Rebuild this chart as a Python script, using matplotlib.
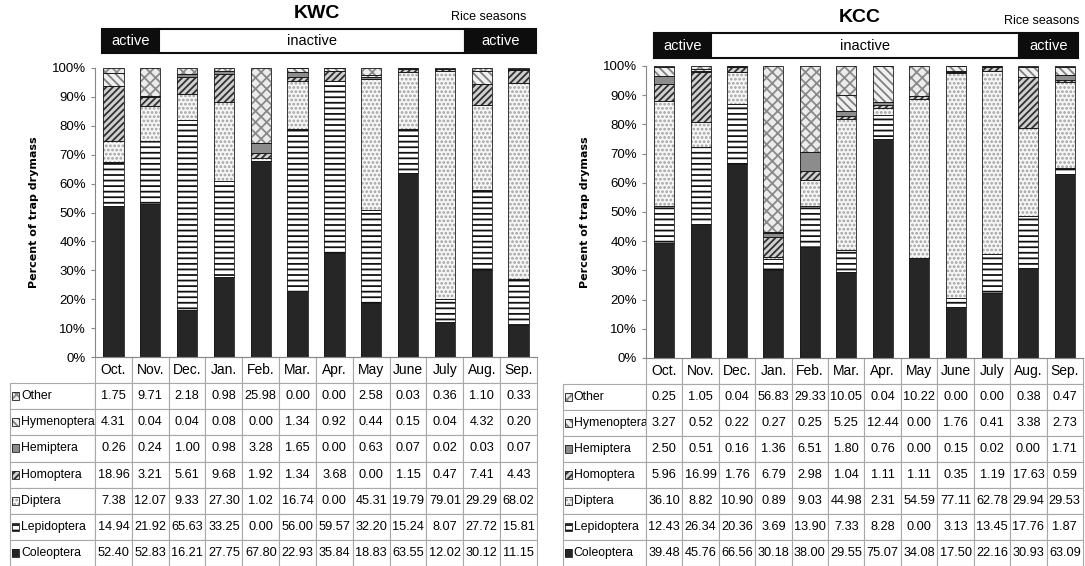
import matplotlib
matplotlib.use('Agg')
import matplotlib.pyplot as plt
from matplotlib.patches import Rectangle
import numpy as np

plt.rcParams['font.family'] = ['DejaVu Sans Condensed', 'Liberation Sans', 'DejaVu Sans']
plt.rcParams['hatch.linewidth'] = 1.3

W, H = 1085, 566

months = ['Oct.', 'Nov.', 'Dec.', 'Jan.', 'Feb.', 'Mar.', 'Apr.', 'May', 'June', 'July', 'Aug.', 'Sep.']
orders = ['Coleoptera', 'Lepidoptera', 'Diptera', 'Homoptera', 'Hemiptera', 'Hymenoptera', 'Other']

# KWC site (% of trap drymass)
kwc_other = [1.75, 9.71, 2.18, 0.98, 25.98, 0.00, 0.00, 2.58, 0.03, 0.36, 1.10, 0.33]
kwc_hymenoptera = [4.31, 0.04, 0.04, 0.08, 0.00, 1.34, 0.92, 0.44, 0.15, 0.04, 4.32, 0.20]
kwc_hemiptera = [0.26, 0.24, 1.00, 0.98, 3.28, 1.65, 0.00, 0.63, 0.07, 0.02, 0.03, 0.07]
kwc_homoptera = [18.96, 3.21, 5.61, 9.68, 1.92, 1.34, 3.68, 0.00, 1.15, 0.47, 7.41, 4.43]
kwc_diptera = [7.38, 12.07, 9.33, 27.30, 1.02, 16.74, 0.00, 45.31, 19.79, 79.01, 29.29, 68.02]
kwc_lepidoptera = [14.94, 21.92, 65.63, 33.25, 0.00, 56.00, 59.57, 32.20, 15.24, 8.07, 27.72, 15.81]
kwc_coleoptera = [52.40, 52.83, 16.21, 27.75, 67.80, 22.93, 35.84, 18.83, 63.55, 12.02, 30.12, 11.15]

# KCC site
kcc_other = [0.25, 1.05, 0.04, 56.83, 29.33, 10.05, 0.04, 10.22, 0.00, 0.00, 0.38, 0.47]
kcc_hymenoptera = [3.27, 0.52, 0.22, 0.27, 0.25, 5.25, 12.44, 0.00, 1.76, 0.41, 3.38, 2.73]
kcc_hemiptera = [2.50, 0.51, 0.16, 1.36, 6.51, 1.80, 0.76, 0.00, 0.15, 0.02, 0.00, 1.71]
kcc_homoptera = [5.96, 16.99, 1.76, 6.79, 2.98, 1.04, 1.11, 1.11, 0.35, 1.19, 17.63, 0.59]
kcc_diptera = [36.10, 8.82, 10.90, 0.89, 9.03, 44.98, 2.31, 54.59, 77.11, 62.78, 29.94, 29.53]
kcc_lepidoptera = [12.43, 26.34, 20.36, 3.69, 13.90, 7.33, 8.28, 0.00, 3.13, 13.45, 17.76, 1.87]
kcc_coleoptera = [39.48, 45.76, 66.56, 30.18, 38.00, 29.55, 75.07, 34.08, 17.50, 22.16, 30.93, 63.09]

kwc = {'Other': kwc_other, 'Hymenoptera': kwc_hymenoptera, 'Hemiptera': kwc_hemiptera,
       'Homoptera': kwc_homoptera, 'Diptera': kwc_diptera, 'Lepidoptera': kwc_lepidoptera,
       'Coleoptera': kwc_coleoptera}
kcc = {'Other': kcc_other, 'Hymenoptera': kcc_hymenoptera, 'Hemiptera': kcc_hemiptera,
       'Homoptera': kcc_homoptera, 'Diptera': kcc_diptera, 'Lepidoptera': kcc_lepidoptera,
       'Coleoptera': kcc_coleoptera}

# facecolor, hatch colour, hatch
styles = {
    'Coleoptera': ('#262626', '#262626', None),
    'Lepidoptera': ('white', '#111111', '---'),
    'Diptera': ('#f6f6f6', '#a0a0a0', '....'),
    'Homoptera': ('#d0d0d0', '#303030', '/////'),
    'Hemiptera': ('#8c8c8c', '#8c8c8c', None),
    'Hymenoptera': ('#f0f0f0', '#808080', '\\\\\\\\'),
    'Other': ('#ececec', '#8a8a8a', 'xxx'),
}


def fx(px):
    return px / W


def fy(py):
    return 1 - py / H


def draw_strip(fig, x0, a1, a2, x1, top, bot):
    h = fy(top) - fy(bot)
    for l, r, fc in [(x0, a1, '#0d0d0d'), (a1, a2, 'white'), (a2, x1, '#0d0d0d')]:
        fig.add_artist(Rectangle((fx(l), fy(bot)), fx(r) - fx(l), h, transform=fig.transFigure,
                                 facecolor=fc, edgecolor='#0d0d0d', linewidth=1.5))
    yc = fy((top + bot) / 2)
    fig.text(fx((x0 + a1) / 2), yc, 'active', color='white', ha='center', va='center', fontsize=10.5)
    fig.text(fx((a1 + a2) / 2), yc, 'inactive', color='black', ha='center', va='center', fontsize=10.5)
    fig.text(fx((a2 + x1) / 2), yc, 'active', color='white', ha='center', va='center', fontsize=10.5)


def draw_panel(fig, left, right, top, bottom, lab_left, data):
    ax = fig.add_axes([fx(left), fy(bottom), fx(right) - fx(left), fy(top) - fy(bottom)])
    x = np.arange(len(months))
    total = np.sum([data[n] for n in orders], axis=0)
    base = np.zeros(len(months))
    for name in orders:
        fc, hc, hatch = styles[name]
        pct = np.array(data[name]) / total * 100
        ax.bar(x, pct, 0.55, bottom=base, color=fc, edgecolor=hc, hatch=hatch, linewidth=0)
        ax.bar(x, pct, 0.55, bottom=base, fill=False, edgecolor='#1a1a1a', linewidth=0.6)
        base += pct
    ax.set_xlim(-0.5, 11.5)
    ax.set_ylim(0, 100)
    ax.set_xticks([])
    ax.set_yticks(np.arange(0, 101, 10))
    ax.set_yticklabels([f'{v}%' for v in range(0, 101, 10)])
    ax.tick_params(axis='y', labelsize=9.5, length=3, color='#888888')
    for s in ['top', 'right']:
        ax.spines[s].set_visible(False)
    for s in ['left', 'bottom']:
        ax.spines[s].set_color('#888888')
    ax.set_ylabel('Percent of trap drymass', fontsize=8, fontweight='bold', labelpad=9,
                  family=['DejaVu Sans'])

    # data table below the bars
    aw = right - left
    ah = bottom - top
    lw = (left - lab_left) / aw
    th = (H - bottom) / ah
    rows = orders[::-1]
    cell_text = [[name] + [f'{v:.2f}' for v in data[name]] for name in rows]
    tbl = ax.table(cellText=cell_text, colLabels=[''] + months,
                   colWidths=[lw] + [1 / 12] * 12, cellLoc='center',
                   bbox=[-lw, -th, 1 + lw, th])
    tbl.auto_set_font_size(False)
    tbl.set_fontsize(9.2)
    for (r, c), cell in tbl.get_celld().items():
        cell.set_edgecolor('#a8a8a8')
        cell.set_linewidth(0.8)
        if r == 0:
            cell.get_text().set_fontsize(10)
        if c == 0:
            cell._loc = 'left'
            cell.PAD = 0.13
            cell.get_text().set_horizontalalignment('left')
            cell.get_text().set_fontsize(8.8)
        if r == 0 and c == 0:
            cell.visible_edges = ''
    rh = th / (len(rows) + 1)
    kw, kh = 7 / aw, 8 / ah
    for i, name in enumerate(rows):
        fc, hc, hatch = styles[name]
        yc = -(i + 1.5) * rh
        ax.add_patch(Rectangle((-lw + 2 / aw, yc - kh / 2), kw, kh, transform=ax.transAxes,
                               facecolor=fc, edgecolor=hc, hatch=hatch, linewidth=0, clip_on=False))
        ax.add_patch(Rectangle((-lw + 2 / aw, yc - kh / 2), kw, kh, transform=ax.transAxes,
                               fill=False, edgecolor='#1a1a1a', linewidth=0.6, clip_on=False))
    return ax


fig = plt.figure(figsize=(W / 100, H / 100), dpi=100)

draw_panel(fig, 95, 537, 68, 357, 10, kwc)
draw_panel(fig, 646, 1083, 66, 358, 563, kcc)

draw_strip(fig, 102, 159, 465, 536, 29, 53)
draw_strip(fig, 654, 711, 1019, 1078, 33, 58)

fig.text(fx(317), fy(13), 'KWC', fontsize=14, fontweight='bold', ha='center', va='center')
fig.text(fx(860), fy(17), 'KCC', fontsize=14, fontweight='bold', ha='center', va='center')
fig.text(fx(526), fy(17), 'Rice seasons', fontsize=9, ha='right', va='center')
fig.text(fx(1079), fy(21), 'Rice seasons', fontsize=9, ha='right', va='center')

fig.savefig('out.png', dpi=100)
